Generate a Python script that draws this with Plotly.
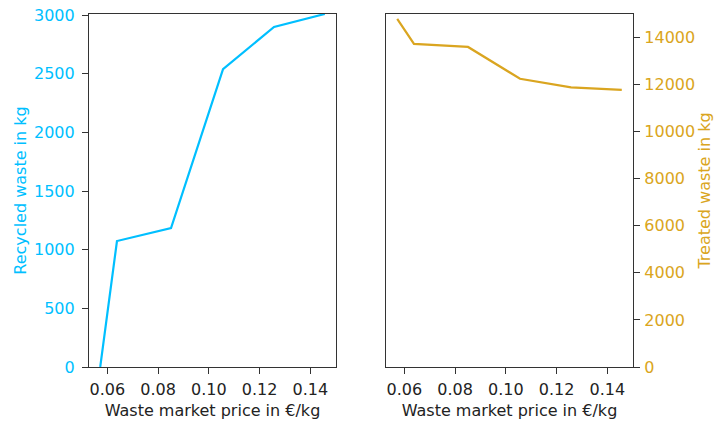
import plotly.graph_objects as go

price = [0.0572, 0.0638, 0.0851, 0.1056, 0.1257, 0.1457]
recycled = [0, 1074, 1185, 2540, 2900, 3010]
treated = [14790, 13730, 13600, 12250, 11880, 11780]

x_ticks = [0.06, 0.08, 0.10, 0.12, 0.14]
x_ticklabels = ["0.06", "0.08", "0.10", "0.12", "0.14"]
rec_ticks = [0, 500, 1000, 1500, 2000, 2500, 3000]
rec_ticklabels = ["0", "500", "1000", "1500", "2000", "2500", "3000"]
tre_ticks = [0, 2000, 4000, 6000, 8000, 10000, 12000, 14000]
tre_ticklabels = ["0", "2000", "4000", "6000", "8000", "10000", "12000", "14000"]

BLUE = "#00BFFF"
GOLD = "#DAA520"
FONT = "DejaVu Sans"
FS = 16

fig = go.Figure()
fig.add_trace(go.Scatter(x=price, y=recycled, mode="lines",
                         line=dict(color=BLUE, width=2.2), xaxis="x", yaxis="y",
                         showlegend=False))
fig.add_trace(go.Scatter(x=price, y=treated, mode="lines",
                         line=dict(color=GOLD, width=2.2), xaxis="x2", yaxis="y2",
                         showlegend=False))

span = max(price) - min(price)
xr = [min(price) - 0.05 * span, max(price) + 0.05 * span]

common_x = dict(range=xr, tickvals=x_ticks, ticktext=x_ticklabels, automargin=False,
                showline=True, linecolor="#333", linewidth=1.2, mirror=True,
                ticks="outside", ticklen=6, tickcolor="#333", ticklabelstandoff=2,
                tickfont=dict(family=FONT, size=FS, color="#222"),
                showgrid=False, zeroline=False,
                title=dict(text="Waste market price in €/kg",
                           font=dict(family=FONT, size=FS, color="#222"), standoff=6))

ydom = [1 - 367/421, 1 - 14/421]

fig.update_layout(
    width=720, height=421,
    margin=dict(l=0, r=0, t=0, b=0),
    paper_bgcolor="white", plot_bgcolor="white",
    xaxis=dict(domain=[89/720, 336/720], anchor="y", **common_x),
    xaxis2=dict(domain=[386/720, 633/720], anchor="y2", **common_x),
    yaxis=dict(domain=ydom, anchor="x", automargin=False,
               range=[0, max(recycled)], tickvals=rec_ticks, ticktext=rec_ticklabels,
               showline=True, linecolor="#333", linewidth=1.2, mirror=True,
               ticks="outside", ticklen=6, tickcolor="#333", ticklabelstandoff=4,
               tickfont=dict(family=FONT, size=FS, color=BLUE),
               showgrid=False, zeroline=False,
               title=dict(text="Recycled waste in kg",
                          font=dict(family=FONT, size=FS, color=BLUE), standoff=3)),
    yaxis2=dict(domain=ydom, anchor="x2", side="right", automargin=False,
                range=[0, 15000], tickvals=tre_ticks, ticktext=tre_ticklabels,
                showline=True, linecolor="#333", linewidth=1.2, mirror=True,
                ticks="outside", ticklen=6, tickcolor="#333", ticklabelstandoff=1,
                tickfont=dict(family=FONT, size=FS, color=GOLD),
                showgrid=False, zeroline=False,
                title=dict(text="Treated waste in kg",
                           font=dict(family=FONT, size=FS, color=GOLD), standoff=4)),
)

fig.write_html("out.html")
